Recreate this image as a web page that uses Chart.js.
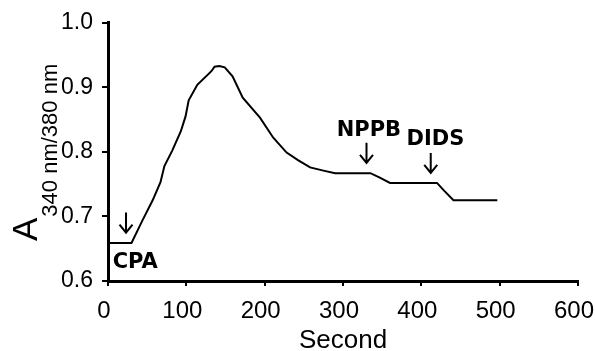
<!DOCTYPE html>
<html><head><meta charset="utf-8">
<script src="https://cdn.jsdelivr.net/npm/chart.js@4/dist/chart.umd.min.js"></script>
<style>html,body{margin:0;padding:0;background:#fff;}#wrap{width:595px;height:351px;position:relative;}</style>
</head><body><div id="wrap"><canvas id="c"></canvas></div>
<script>
// Data
const timeSec = [0, 30, 44, 57, 67, 72, 82, 93, 99, 103, 114, 132, 136, 142, 149, 159, 172, 194, 211, 228, 243, 258, 275, 290, 335, 347, 360, 420, 429, 441, 497];
const ratio   = [0.659, 0.659, 0.694, 0.725, 0.753, 0.778, 0.802, 0.832, 0.855, 0.880, 0.904, 0.925, 0.932, 0.933, 0.931, 0.917, 0.884, 0.853, 0.822, 0.799, 0.787, 0.776, 0.771, 0.767, 0.767, 0.760, 0.752, 0.752, 0.740, 0.725, 0.725];
const xTickValues = [0, 100, 200, 300, 400, 500, 600];
const yTickValues = [0.6, 0.7, 0.8, 0.9, 1.0];
// Drug additions (arrow tip position in data space) and their labels
const drugNames = ['CPA', 'NPPB', 'DIDS'];
const drugTimes = [23, 330, 412];
const drugArrowTips = [0.675, 0.783, 0.7675];
const drugLabelTimes = [6, 333, 418];
const drugLabelValues = [0.620, 0.824, 0.811];
const xTitle = 'Second';
const yTitleMain = 'A';
const yTitleSub = '340 nm/380 nm';

const points = timeSec.map((t, i) => ({x: t, y: ratio[i]}));

const annotPlugin = {
  id: 'annot',
  afterDatasetsDraw(chart) {
    const ctx = chart.ctx, xs = chart.scales.x, ys = chart.scales.y;
    ctx.save();
    ctx.strokeStyle = '#000'; ctx.fillStyle = '#000'; ctx.lineWidth = 2;
    drugNames.forEach((name, i) => {
      const px = xs.getPixelForValue(drugTimes[i]);
      const py = ys.getPixelForValue(drugArrowTips[i]);
      ctx.beginPath();
      ctx.moveTo(px, py - 20); ctx.lineTo(px, py);
      ctx.moveTo(px - 6.5, py - 8); ctx.lineTo(px, py); ctx.lineTo(px + 6.5, py - 8);
      ctx.stroke();
      const lx = xs.getPixelForValue(drugLabelTimes[i]);
      const ly = ys.getPixelForValue(drugLabelValues[i]);
      ctx.font = 'bold 21px "DejaVu Sans"';
      ctx.textBaseline = 'alphabetic';
      ctx.textAlign = i === 0 ? 'left' : 'center';
      ctx.fillText(name, lx, ly);
    });
    // Y axis title with subscript
    const cy = (chart.chartArea.top + chart.chartArea.bottom) / 2 + 1;
    ctx.translate(37, cy);
    ctx.rotate(-Math.PI / 2);
    ctx.textAlign = 'left';
    ctx.font = '35px "Liberation Sans"';
    const wA = ctx.measureText(yTitleMain).width;
    ctx.font = '22px "Liberation Sans"';
    const wS = ctx.measureText(yTitleSub).width;
    const start = -(wA + wS) / 2;
    ctx.font = '35px "Liberation Sans"';
    ctx.fillText(yTitleMain, start, 0);
    ctx.font = '22px "Liberation Sans"';
    ctx.fillText(yTitleSub, start + wA + 1, 20);
    ctx.restore();
  }
};

new Chart(document.getElementById('c'), {
  type: 'line',
  data: { datasets: [{ data: points, borderColor: '#000', borderWidth: 2, pointRadius: 0, tension: 0, fill: false }] },
  options: {
    responsive: true, maintainAspectRatio: false, animation: false,
    layout: { padding: { top: 20, right: 0, left: 0, bottom: 0 } },
    plugins: { legend: { display: false }, tooltip: { enabled: false } },
    scales: {
      x: {
        type: 'linear', min: 0, max: 600,
        afterBuildTicks: s => { s.ticks = xTickValues.map(v => ({value: v})); },
        afterFit: s => { s.height = 70; s.paddingRight = 17; s.paddingLeft = 0; },
        ticks: { color: '#000', font: { family: 'Liberation Sans', size: 24 }, padding: 11, maxRotation: 0, labelOffset: -4 },
        grid: { drawOnChartArea: false, drawTicks: true, tickLength: 5, color: '#000', lineWidth: 2 },
        border: { display: true, color: '#000', width: 3 },
        title: { display: true, text: xTitle, color: '#000', font: { family: 'Liberation Sans', size: 26, lineHeight: 0.8 }, padding: 0 }
      },
      y: {
        type: 'linear', min: 0.6, max: 1.0,
        afterBuildTicks: s => { s.ticks = yTickValues.map(v => ({value: v})); },
        afterFit: s => { s.width = 108; },
        ticks: { color: '#000', font: { family: 'Liberation Sans', size: 23 }, padding: 9, callback: v => v.toFixed(1) },
        grid: { drawOnChartArea: false, drawTicks: true, tickLength: 6, color: '#000', lineWidth: 2 },
        border: { display: true, color: '#000', width: 3 }
      }
    }
  },
  plugins: [annotPlugin]
});
</script></body></html>
